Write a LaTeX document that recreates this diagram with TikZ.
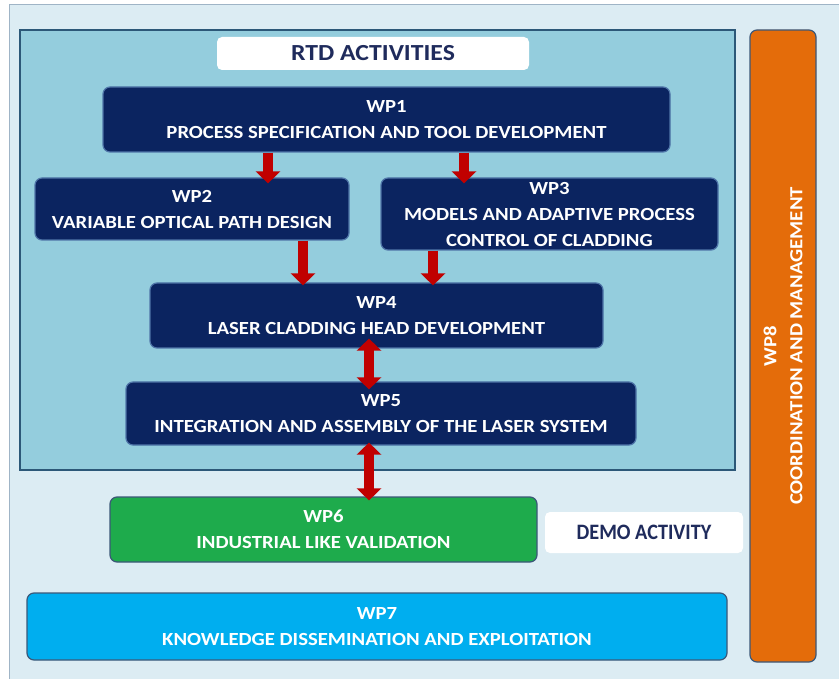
\documentclass[tikz,border=0pt]{standalone}
\usepackage{fontspec}
\setmainfont{Carlito}
\newfontfamily\wpfont[FakeStretch=1.12]{Carlito}
\newfontfamily\wpcond[FakeStretch=0.92]{Carlito}
\usetikzlibrary{arrows.meta}
\definecolor{wpbg}{HTML}{DCECF3}
\definecolor{wpbgln}{HTML}{9FB4C6}
\definecolor{wprtd}{HTML}{94CDDD}
\definecolor{wprtdln}{HTML}{2C5878}
\definecolor{wpnavy}{HTML}{0B2460}
\definecolor{wpnavyln}{HTML}{4F75A8}
\definecolor{wpgreen}{HTML}{1EAB4C}
\definecolor{wpcyan}{HTML}{00AEEF}
\definecolor{wporange}{HTML}{E46C0A}
\definecolor{wpedge}{HTML}{3C5878}
\definecolor{wpred}{HTML}{C00000}
\definecolor{wptag}{HTML}{1F2B5C}
\tikzset{
  wpbox/.style   = {rounded corners=7pt, draw, line width=1.2pt, align=center,
                    inner sep=0pt, text=white, font=\wpfont\bfseries\fontsize{18.5}{26}\selectfont},
  navyb/.style   = {wpbox, fill=wpnavy, draw=wpnavyln},
  greenb/.style  = {wpbox, fill=wpgreen, draw=wpedge},
  cyanb/.style   = {wpbox, fill=wpcyan, draw=wpedge},
  orangeb/.style = {wpbox, fill=wporange, draw=wpedge},
  tagb/.style    = {rounded corners=5pt, fill=white, inner sep=0pt, text=wptag},
  redar/.style   = {-{Triangle[length=12pt,width=24pt]}, line width=9.5pt, wpred},
  redarb/.style  = {{Triangle[length=12pt,width=24pt]}-{Triangle[length=12pt,width=24pt]},
                    line width=9.5pt, wpred},
}
\begin{document}
\begin{tikzpicture}[x=1pt,y=-1pt]
\useasboundingbox (0,0) rectangle (839,679);
\fill[white] (0,0) rectangle (839,679);

% -- panels ------------------------------------------------------------------
\draw[wpbgln, fill=wpbg, line width=1pt] (9,5) rectangle (850,690);
\draw[wprtdln, fill=wprtd, line width=1.4pt] (20,30) rectangle (735,470);

% -- labels ------------------------------------------------------------------
\node[tagb, minimum width=312pt, minimum height=33pt,
      font=\wpfont\bfseries\fontsize{23}{26}\selectfont] (rtdlbl) at (373,53.5) {RTD ACTIVITIES};
\node[tagb, minimum width=198pt, minimum height=41pt,
      font=\wpcond\bfseries\fontsize{22}{26}\selectfont] (demolbl) at (644,532.5) {DEMO ACTIVITY};

% -- work packages -----------------------------------------------------------
\node[navyb, minimum width=567pt, minimum height=65pt] (wp1) at (386.5,119.5)
  {WP1\\PROCESS SPECIFICATION AND TOOL DEVELOPMENT};
\node[navyb, minimum width=314pt, minimum height=62pt] (wp2) at (192,209)
  {WP2\\VARIABLE OPTICAL PATH DESIGN};
\node[navyb, minimum width=337pt, minimum height=72pt] (wp3) at (549.5,214)
  {WP3\\MODELS AND ADAPTIVE PROCESS\\CONTROL OF CLADDING};
\node[navyb, minimum width=453pt, minimum height=65pt] (wp4) at (376.5,315.5)
  {WP4\\LASER CLADDING HEAD DEVELOPMENT};
\node[navyb, minimum width=510pt, minimum height=63pt] (wp5) at (381,413.5)
  {WP5\\INTEGRATION AND ASSEMBLY OF THE LASER SYSTEM};
\node[greenb, minimum width=427pt, minimum height=65pt] (wp6) at (323.5,529.5)
  {WP6\\INDUSTRIAL LIKE VALIDATION};
\node[cyanb, minimum width=700pt, minimum height=67pt] (wp7) at (377,626.5)
  {WP7\\KNOWLEDGE DISSEMINATION AND EXPLOITATION};
\node[orangeb, minimum width=632pt, minimum height=66pt, rotate=90] (wp8) at (783,346)
  {WP8\\COORDINATION AND MANAGEMENT};

% -- arrows ------------------------------------------------------------------
\draw[redar] ([xshift=-118.5pt]wp1.south) -- ([xshift=-118.5pt,yshift=-6pt]wp1.south |- wp2.north);
\draw[redar] ([xshift=77.5pt]wp1.south) -- ([xshift=77.5pt,yshift=-6pt]wp1.south |- wp3.north);
\draw[redar] ([xshift=111pt]wp2.south) -- ([xshift=111pt,yshift=-3pt]wp2.south |- wp4.north);
\draw[redar] ([xshift=-116.5pt]wp3.south) -- ([xshift=-116.5pt,yshift=-3pt]wp3.south |- wp4.north);
\draw[redarb] ([xshift=-7.5pt,yshift=10pt]wp4.south) -- ([xshift=-7.5pt,yshift=-8pt]wp4.south |- wp5.north);
\draw[redarb] ([xshift=-12pt,yshift=3pt]wp5.south) -- ([xshift=-12pt,yshift=-4pt]wp5.south |- wp6.north);
\end{tikzpicture}
\end{document}
